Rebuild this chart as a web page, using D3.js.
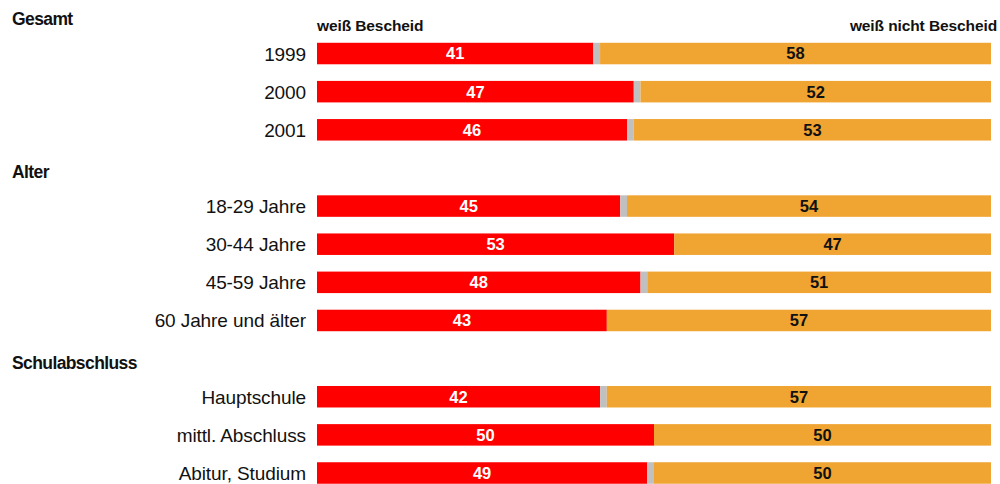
<!DOCTYPE html>
<html>
<head>
<meta charset="utf-8">
<script src="https://cdn.jsdelivr.net/npm/d3@7"></script>
<style>
  body { margin: 0; background: #fff; }
  svg { display: block; font-family: "Liberation Sans", Arial, sans-serif; }
  .group__label { font-size: 17.5px; font-weight: bold; letter-spacing: -0.6px; }
  .legend__label { font-size: 15.5px; font-weight: bold; letter-spacing: -0.1px; }
  .cat__label { font-size: 19px; letter-spacing: -0.1px; }
  .value__label { font-size: 16.5px; font-weight: bold; }
</style>
</head>
<body>
<svg id="chart" width="1000" height="484"></svg>
<script>
// Group headers
var groups = ['Gesamt', 'Alter', 'Schulabschluss'];
// Categories and the group each one belongs to
var categories = ['1999', '2000', '2001',
  '18-29 Jahre', '30-44 Jahre', '45-59 Jahre', '60 Jahre und älter',
  'Hauptschule', 'mittl. Abschluss', 'Abitur, Studium'];
var categoryGroup = [0, 0, 0, 1, 1, 1, 1, 2, 2, 2];
// Values in percent
var weissBescheid = [41, 47, 46, 45, 53, 48, 43, 42, 50, 49];
var weissNichtBescheid = [58, 52, 53, 54, 47, 51, 57, 57, 50, 50];
// Legend texts
var seriesNames = ['weiß Bescheid', 'weiß nicht Bescheid'];

var svg = d3.select('#chart');

// Build the list of slots: a header slot followed by the category slots
var slots = [];
groups.forEach(function (g, gi) {
  slots.push({key: 'g' + gi, type: 'group', label: g});
  categories.forEach(function (c, ci) {
    if (categoryGroup[ci] === gi) {
      slots.push({key: 'c' + ci, type: 'cat', label: c, index: ci});
    }
  });
});

var rows = categories.map(function (c, i) {
  return {
    key: 'c' + i,
    label: c,
    yes: weissBescheid[i],
    rest: 100 - weissBescheid[i] - weissNichtBescheid[i],
    no: weissNichtBescheid[i]
  };
});

var x = d3.scaleLinear().domain([0, 100]).range([317, 991]);
var y = d3.scalePoint()
  .domain(slots.map(function (s) { return s.key; }))
  .range([15.4, 473]);
var barHeight = 21.5;

var colors = {yes: '#ff0000', rest: '#c0c0c0', no: '#f0a431'};

var stack = d3.stack().keys(['yes', 'rest', 'no']);
var series = stack(rows);

// Bars
svg.append('g').selectAll('g')
  .data(series).enter()
  .append('g')
  .attr('fill', function (s) { return colors[s.key]; })
  .selectAll('rect')
  .data(function (s) { return s; }).enter()
  .append('rect')
  .attr('x', function (d) { return x(d[0]); })
  .attr('width', function (d) { return x(d[1]) - x(d[0]); })
  .attr('y', function (d) { return y(d.data.key) - barHeight / 2; })
  .attr('height', barHeight);

// Value labels
var labelSeries = series.filter(function (s) { return s.key !== 'rest'; });
svg.append('g').selectAll('g')
  .data(labelSeries).enter()
  .append('g')
  .attr('fill', function (s) { return s.key === 'yes' ? '#fff' : '#111'; })
  .selectAll('text')
  .data(function (s) { return s; }).enter()
  .append('text')
  .attr('class', 'value__label')
  .attr('text-anchor', 'middle')
  .attr('x', function (d) { return (x(d[0]) + x(d[1])) / 2; })
  .attr('y', function (d) { return y(d.data.key); })
  .attr('dy', '0.36em')
  .text(function (d) { return d[1] - d[0]; });

// Category labels
svg.append('g').selectAll('text')
  .data(slots.filter(function (s) { return s.type === 'cat'; })).enter()
  .append('text')
  .attr('class', 'cat__label')
  .attr('text-anchor', 'end')
  .attr('x', x(0) - 11)
  .attr('y', function (s) { return y(s.key); })
  .attr('dy', '0.37em')
  .attr('fill', '#111')
  .text(function (s) { return s.label; });

// Group headers
svg.append('g').selectAll('text')
  .data(slots.filter(function (s) { return s.type === 'group'; })).enter()
  .append('text')
  .attr('class', 'group__label')
  .attr('x', 12)
  .attr('y', function (s) { return y(s.key) + 10; })
  .attr('fill', '#111')
  .text(function (s) { return s.label; });

// Series legend above the bars
svg.append('text')
  .attr('class', 'legend__label')
  .attr('x', x(0))
  .attr('y', 31)
  .attr('fill', '#111')
  .text(seriesNames[0]);
svg.append('text')
  .attr('class', 'legend__label')
  .attr('text-anchor', 'end')
  .attr('x', 997)
  .attr('y', 31)
  .attr('fill', '#111')
  .text(seriesNames[1]);
</script>
</body>
</html>
